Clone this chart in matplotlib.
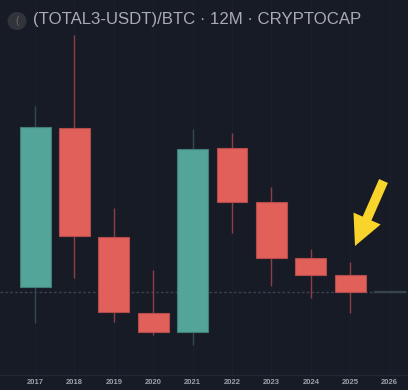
import matplotlib
matplotlib.use("Agg")
import matplotlib.pyplot as plt
from matplotlib.patches import Polygon, Circle
import numpy as np

# yearly candles, values in arbitrary units
years = [2017, 2018, 2019, 2020, 2021, 2022, 2023, 2024, 2025, 2026]
opens = [8.8, 24.7, 13.8, 6.2, 4.3, 22.7, 17.3, 11.7, 10.0, 8.33]
highs = [26.9, 34.0, 16.7, 10.5, 24.6, 24.2, 18.8, 12.6, 11.3, 8.33]
lows = [5.2, 9.7, 5.3, 4.0, 3.0, 14.2, 8.9, 7.7, 6.2, 8.33]
closes = [24.8, 13.9, 6.3, 4.3, 22.6, 17.3, 11.7, 10.0, 8.33, 8.33]
last_price = 8.33

W, H = 408, 390
BG = '#171b26'
UP, DOWN = '#53a499', '#e1605a'
UP_WICK, DOWN_WICK = '#34494f', '#8e3f45'

plt.rcParams['font.family'] = ['Liberation Sans', 'DejaVu Sans']
fig = plt.figure(figsize=(W / 100, H / 100), dpi=100, facecolor=BG)
ax = fig.add_axes([0, 15 / H, 1, 375 / H])
ax.set_facecolor(BG)

step = 39.4
ax.set_xlim(2017 - 35 / step, 2017 + 373 / step)
ax.set_ylim(0, 37.5)

# faint grid
for yr in years:
    ax.axvline(yr, color='#1b1f2b', lw=0.8, zorder=0)

ax.axhline(last_price, color='#3a404c', lw=1.0, ls=(0, (2, 1.5)), zorder=1)

width = 31 / step
for yr, o, h, l, c in zip(years, opens, highs, lows, closes):
    if o == c == h == l:
        ax.hlines(o, yr - 16 / step, yr + 16 / step, color='#37434a', lw=1.6, zorder=3)
        continue
    up = c >= o
    col = UP if up else DOWN
    wick = UP_WICK if up else DOWN_WICK
    ax.vlines(yr, l, h, color=wick, lw=1.0, zorder=2)
    ax.bar(yr, abs(c - o), bottom=min(o, c), width=width, color=col,
           edgecolor='#3f7f77' if up else '#b44c4c', linewidth=0.8, zorder=3)

for s in ax.spines.values():
    s.set_visible(False)
ax.set_xticks([])
ax.set_yticks([])

# bottom time axis
fig.add_artist(plt.Line2D([0, 1], [15 / H, 15 / H], color='#232733', lw=1.0))
for yr in years:
    xf = (35 + (yr - 2017) * step) / W
    fig.text(xf, 1 - 383 / H, str(yr), color='#9da1ab', fontsize=5.5,
             fontweight='bold', ha='center', va='center')

# header
fig.add_artist(Circle((17 / W, 1 - 21 / H), 9.5 / W, transform=fig.transFigure,
                      facecolor='#32343b', edgecolor='none'))
fig.text(17 / W, 1 - 21 / H, '(', color='#6e6c62', fontsize=7,
         ha='center', va='center')
fig.text(33 / W, 1 - 19.5 / H, '(TOTAL3-USDT)/BTC \u00b7 12M \u00b7 CRYPTOCAP',
         color='#a9acb4', fontsize=12.1, ha='left', va='center')

# yellow arrow
tail, tip = np.array([383.5, 181.0]), np.array([355.0, 246.0])
u = (tip - tail) / np.linalg.norm(tip - tail)
n = np.array([u[1], -u[0]])
base = tip - u * 30
pts = [tail + n * 4.8, base + n * 4.8, base + n * 14.8, tip,
       base - n * 14.8, base - n * 4.8, tail - n * 4.8]
pts = [(x / W, 1 - y / H) for x, y in pts]
fig.add_artist(Polygon(pts, closed=True, transform=fig.transFigure,
                       facecolor='#f9d42a', edgecolor='none'))

fig.savefig('out.png', dpi=100, facecolor=BG)
